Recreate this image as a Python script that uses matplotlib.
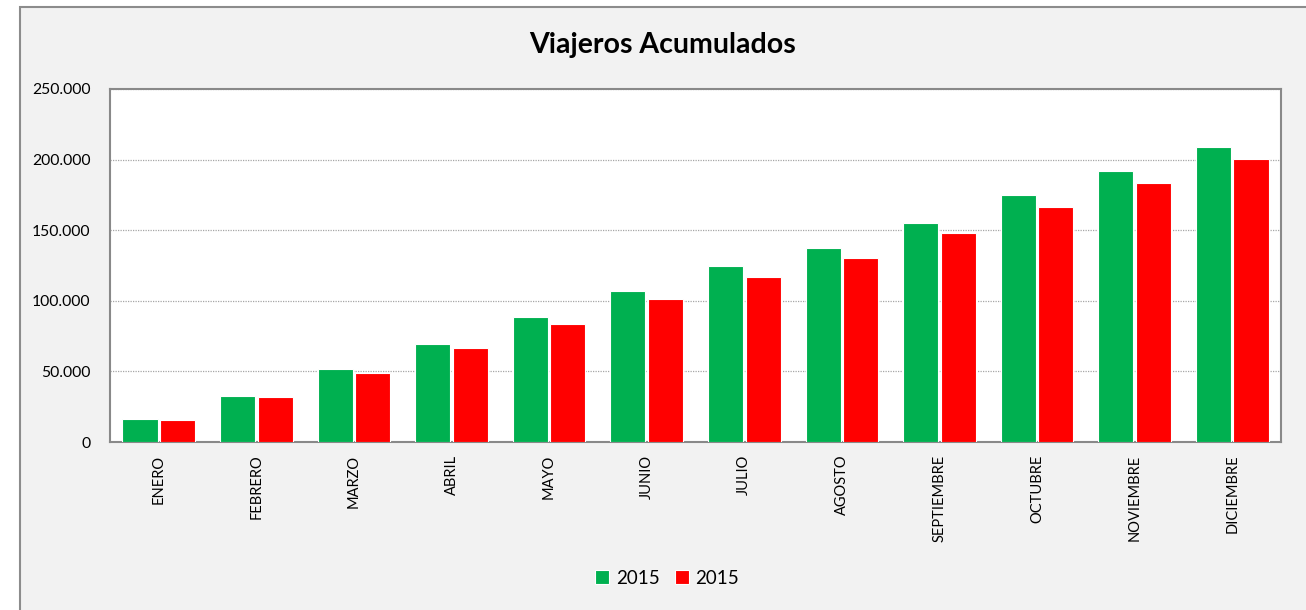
import matplotlib
matplotlib.use("Agg")
import matplotlib.pyplot as plt
import numpy as np
from matplotlib.patches import Rectangle
from matplotlib.ticker import FuncFormatter, MultipleLocator

plt.rcParams['font.family'] = ['Lato', 'DejaVu Sans']

months = ["ENERO", "FEBRERO", "MARZO", "ABRIL", "MAYO", "JUNIO", "JULIO",
          "AGOSTO", "SEPTIEMBRE", "OCTUBRE", "NOVIEMBRE", "DICIEMBRE"]
series_a = [16000, 32500, 51400, 69100, 88200, 107000, 124400, 137200, 155100, 174900, 191600, 208600]
series_b = [15300, 32000, 48800, 66500, 83900, 101400, 116700, 130400, 148000, 166400, 183400, 200100]
legend_labels = ["2015", "2015"]

W, H = 1306, 610
fig = plt.figure(figsize=(W / 100, H / 100), dpi=100)
fig.patch.set_facecolor("white")

# chart area (Excel style)
fig.patches.append(Rectangle((20 / W, -0.05), 1.2, (H - 7) / H + 0.05,
                             transform=fig.transFigure, facecolor="#F2F2F2",
                             edgecolor="#8C8C8C", linewidth=1.5, zorder=-10))

ax = fig.add_axes([110 / W, (H - 442) / H, (1281 - 110) / W, (442 - 89) / H])
ax.set_zorder(1)
ax.set_facecolor("white")

x = np.arange(len(months))
w = 0.36
off = 0.1925
ax.bar(x - off, series_a, width=w, color="#00B050", edgecolor="white",
       linewidth=0.8, label=legend_labels[0], zorder=3)
ax.bar(x + off, series_b, width=w, color="#FF0000", edgecolor="white",
       linewidth=0.8, label=legend_labels[1], zorder=3)

ax.set_xlim(-0.5, len(months) - 0.5)
ax.set_ylim(0, 250000)
ax.yaxis.set_major_locator(MultipleLocator(50000))
ax.yaxis.set_major_formatter(FuncFormatter(lambda v, p: f"{int(v):,}".replace(",", ".")))
ax.grid(axis="y", color="#A6A6A6", linestyle=(0, (1, 1)), linewidth=0.9, zorder=0)
ax.set_axisbelow(True)

ax.set_xticks(x)
ax.set_xticklabels(months, rotation=90, fontsize=10.5, color="black")
ax.tick_params(axis="x", length=0, pad=9)
ax.tick_params(axis="y", length=0, pad=14, labelsize=11.3, labelcolor="black")

for s in ax.spines.values():
    s.set_color("#898989")
    s.set_linewidth(1.5)

fig.text(663 / W, 1 - 45 / H, "Viajeros Acumulados", ha="center", va="center",
         fontsize=20.5, fontweight="bold", color="black")

leg = fig.legend(loc="center", bbox_to_anchor=(667 / W, 1 - 578 / H), ncol=2,
                 frameon=False, fontsize=13.5, handlelength=0.75, handleheight=0.75,
                 handletextpad=0.35, columnspacing=0.8)

fig.savefig("out.png", dpi=100, facecolor=fig.get_facecolor())
